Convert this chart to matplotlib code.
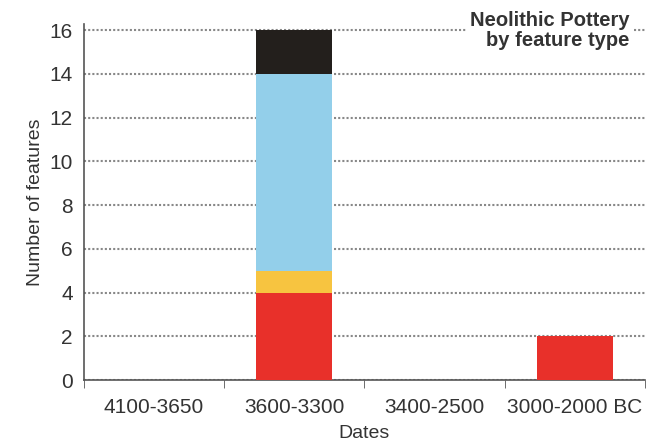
import matplotlib.pyplot as plt
import numpy as np

plt.rcParams['font.family'] = ['Liberation Sans', 'DejaVu Sans']

dates = ["4100-3650", "3600-3300", "3400-2500", "3000-2000 BC"]
red = [0, 4, 0, 2]
yellow = [0, 1, 0, 0]
blue = [0, 9, 0, 0]
black = [0, 2, 0, 0]

colors = ["#e8302a", "#f7c440", "#93cfea", "#231f1c"]

fig = plt.figure(figsize=(6.7, 4.45), dpi=100)
ax = fig.add_axes([0.125, 0.146, 0.838, 0.801])

x = np.arange(len(dates))
bottom = np.zeros(len(dates))
for vals, c in zip([red, yellow, blue, black], colors):
    vals = np.array(vals)
    ax.bar(x, vals, width=0.54, bottom=bottom, color=c, zorder=3)
    bottom += vals

ax.set_xlim(-0.5, 3.5)
ax.set_ylim(0, 16.3)
ax.set_yticks(range(0, 17, 2))
ax.set_xticks(x)
ax.set_xticklabels(dates)
ax.set_xticks(np.arange(-0.5, 4, 1), minor=True)
ax.tick_params(axis='x', which='major', length=0, labelsize=15, pad=13, colors='#333333')
ax.tick_params(axis='x', which='minor', length=6, color='#555555')
ax.tick_params(axis='y', length=0, labelsize=15, pad=8, colors='#333333')

ax.grid(axis='y', linestyle=(0, (1, 1)), color='#888888', linewidth=1.5, zorder=1)
ax.set_axisbelow(True)

for s in ['top', 'right']:
    ax.spines[s].set_visible(False)
for s in ['left', 'bottom']:
    ax.spines[s].set_color('#555555')
    ax.spines[s].set_linewidth(1.2)

ax.set_xlabel("Dates", fontsize=14, color='#333333', labelpad=6)
ax.set_ylabel("Number of features", fontsize=14, color='#333333', labelpad=4)

fig.text(0.94, 0.975, "Neolithic Pottery\nby feature type", ha='right', va='top',
         fontsize=14.5, fontweight='bold', color='#333333', linespacing=1.05,
         bbox=dict(facecolor='white', edgecolor='none', pad=3))

fig.savefig("out.png", dpi=100)
